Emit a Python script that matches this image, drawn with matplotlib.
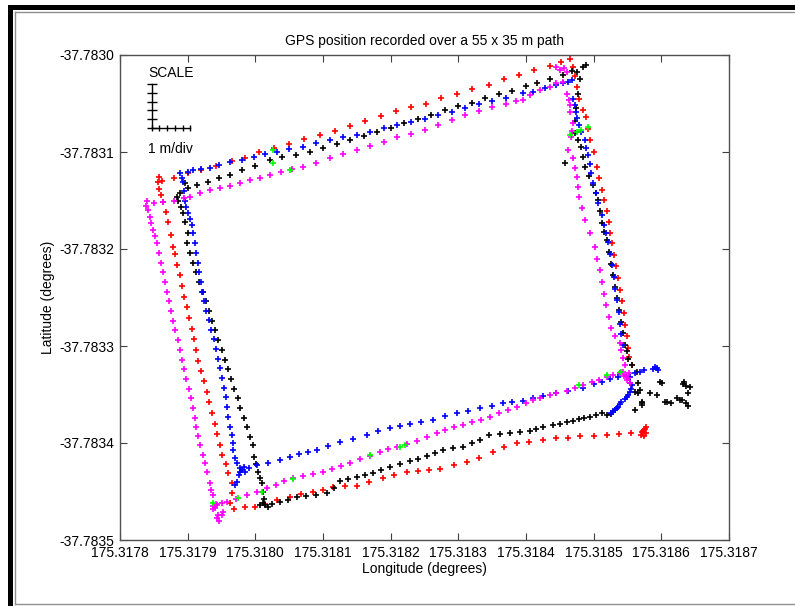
import numpy as np
import matplotlib.pyplot as plt
from matplotlib.ticker import FormatStrFormatter
from matplotlib.patches import Rectangle
from matplotlib.lines import Line2D

# GPS fixes, as (east of LON0, south of LAT0) in 1e-6 degrees
LON0, LAT0 = 175.3178, -37.7830

red = [(62,130),(80,127),(100,122),(120,119),(142,114),(165,109),(185,106),(205,100),(228,96),(250,92),
       (272,87),(295,82),(318,78),(340,73),(362,68),(385,63),(408,58),(430,54),(452,50),(475,44),(498,40),
       (520,35),(545,31),(568,25),(590,21),(612,15),(635,11),(652,7),(665,4),
       (669,12),(672,22),(675,33),(679,45),(684,57),(688,64),(691,76),(695,88),(700,100),(705,115),(708,127),
       (712,139),(716,149),(719,161),(722,172),(724,183),(727,194),(730,206),(733,218),(736,230),(739,242),
       (742,254),(745,266),(747,278),(749,290),(750,302),(752,311),(756,320),
       (770,392),(773,388),(776,386),(778,390),(775,393),(772,389),(777,384),
       (755,390),(737,391),(719,392),(700,393),(680,393),(662,395),(645,395),(625,397),(605,399),(586,400),
       (568,404),(551,409),(530,415),(513,420),(493,423),(473,427),(457,428),(440,429),(424,430),(405,433),
       (388,436),(368,440),(350,444),(332,444),(315,445),(300,448),(285,450),(268,453),(251,456),(232,459),
       (215,463),(200,466),(185,466),(168,468),
       (163,462),(166,452),(165,441),(160,431),(156,422),(151,412),(148,402),(144,391),(140,380),(136,369),
       (132,358),(128,347),(124,336),(120,326),(116,315),(112,304),(109,293),(106,282),(102,271),(99,260),
       (95,249),(92,238),(88,227),(84,216),(81,205),(78,198),(75,186),(71,172),(68,162),(64,152),(60,144),
       (57,138),(56,131),(58,126)]

black = [(84,146),(89,142),(96,132),(100,137),(114,134),(130,131),(146,127),(162,124),(180,119),(200,114),
         (222,108),(240,105),(260,103),(281,100),(300,96),(320,92),(340,88),(360,83),(380,79),(400,75),
         (420,70),(440,66),(460,62),(480,57),(500,53),(520,49),(540,44),(560,40),(580,37),(600,32),(616,29),
         (635,25),(654,21),(668,17),(676,18),(684,12),(688,10),
         (680,25),(677,40),(674,55),(672,68),(672,80),(677,88),(682,95),(684,105),(687,115),(693,125),
         (699,134),(703,142),(706,149),(709,161),(712,173),(716,182),(719,191),(722,203),(725,215),(728,227),
         (731,239),(734,251),(737,263),(740,275),(743,287),(747,299),(749,305),(751,313),(757,320),(764,327),
         (765,338),
         (761,347),(768,345),(783,348),(793,350),(798,337),(805,358),(815,359),(823,354),(830,356),(832,339),
         (836,341),(842,342),(839,348),(837,359),(839,362),(771,358),(772,361),(761,366),(765,348),(772,359),
         (801,338),(808,358),(827,356),(834,337),
         (725,370),(719,371),(713,369),(704,371),(694,373),(686,374),(679,375),(670,377),(660,378),(650,380),
         (640,381),(625,383),(615,386),(606,388),(591,389),(576,390),(561,391),(546,392),(532,397),(520,400),
         (507,404),(492,405),(477,407),(465,410),(453,413),(440,416),(428,419),(414,422),(399,425),(386,428),
         (374,431),(362,433),(350,435),(337,437),(325,439),(316,446),(306,452),(290,454),(275,455),(261,456),
         (248,459),(236,461),(225,463),(214,464),(207,464),(211,462),(218,466),
         (86,150),(90,157),(93,163),(96,172),(100,184),(99,194),(104,204),(108,214),(113,224),(117,234),
         (122,244),(127,254),(131,264),(136,274),(141,284),(145,294),(150,304),(155,314),(160,324),(164,334),
         (169,344),(174,354),(178,364),(183,374),(188,384),(192,394),(196,402),(198,414),(201,422),(204,430),
         (207,436),(210,441),(211,450),(213,458),
         (657,111)]

blue = [(100,121),(108,119),(120,118),(133,117),(147,113),(162,110),(180,108),(198,105),(215,102),(232,100),
        (250,97),(270,95),(290,91),(310,88),(330,85),(350,82),(370,79),(390,75),(410,72),(430,69),(450,66),
        (470,62),(490,59),(510,55),(530,51),(550,47),(570,44),(595,39),(610,38),(628,34),(645,31),(655,29),
        (662,28),(668,26),
        (670,45),(672,52),(674,59),(676,65),(679,72),(682,79),(687,88),(689,96),(691,103),(694,112),(696,122),
        (699,132),(703,142),(707,153),(712,165),(715,175),(718,184),(721,193),(724,205),(727,217),(730,229),
        (732,241),(735,253),(737,265),(739,277),(741,288),(743,299),
        (793,323),(790,322),(795,325),(788,324),(775,325),(768,327),(761,328),(753,332),(753,338),(757,340),
        (755,344),(753,347),(751,350),(749,353),(746,355),(741,358),(739,360),(736,363),(734,364),(731,366),
        (729,367),(728,368),(726,369),
        (177,430),(190,426),(202,423),(218,421),(236,418),(251,414),(265,411),(278,409),(291,407),(308,403),
        (325,399),(345,396),(365,392),(382,388),(399,385),(414,382),(428,380),(445,378),(462,376),(480,372),
        (498,369),(515,367),(532,364),(550,362),(566,359),(580,358),(595,357),(610,354),(625,352),(645,348),
        (662,346),(684,343),(700,339),(713,337),(724,334),(736,332),
        (180,428),(183,425),(176,433),(185,430),(178,426),(173,440),(170,443),
        (89,122),(91,127),(93,131),(95,140),(96,150),(98,157),(100,163),(103,169),(106,175),(108,184),
        (111,194),(113,204),(115,214),(117,224),(119,234),(121,244),(124,254),(127,264),(131,273),(135,283),
        (139,293),(142,303),(145,313),(148,323),(151,333),(153,343),(156,353),(158,363),(160,373),(163,383),
        (165,392),(167,400),(167,407),(170,415),(173,421)]

magenta = [(50,153),(64,152),(80,150),(95,147),(103,146),(118,142),(133,139),(148,137),(162,135),(177,132),
           (192,129),(207,127),(222,124),(238,121),(254,118),(270,115),(290,111),(310,106),(330,102),(350,98),
           (370,94),(390,90),(410,85),(430,81),(450,77),(470,72),(490,67),(510,62),(530,58),(550,54),(570,50),
           (585,47),(595,46),(606,41),(620,36),(635,33),(645,29),(654,28),
           (645,12),(650,15),(656,13),(660,18),
           (660,40),(663,46),(665,52),(665,59),(669,70),(668,78),(667,85),(662,98),(669,106),(672,116),
           (675,126),(677,136),(679,146),(683,158),(687,170),(694,184),(702,198),(705,210),(709,222),(712,234),
           (715,246),(718,258),(722,270),(726,281),(731,290),(739,297),(741,304),(743,312),(746,320),
           (743,327),(748,330),(751,333),(753,338),(749,335),(745,331),(752,328),
           (143,464),(150,462),(158,461),(172,458),(188,454),(202,450),(217,446),(230,443),(243,439),(256,436),
           (270,434),(285,432),(300,430),(313,427),(327,424),(340,421),(355,417),(369,413),(384,409),(396,406),
           (409,404),(424,401),(439,398),(453,394),(468,390),(481,387),(494,384),(507,381),(520,378),(534,376),
           (547,373),(560,369),(573,366),(586,363),(600,359),(610,356),(620,354),(635,351),(645,348),(660,346),
           (672,343),(684,340),(697,337),(708,335),(719,332),(729,330),(739,328),
           (138,465),(140,467),(142,463),(137,468),(143,477),(146,480),(150,474),(152,471),(145,474),
           (40,150),(38,156),(41,160),(44,167),(46,173),(49,180),(52,187),(55,194),(58,204),(61,214),(64,224),
           (67,234),(70,244),(73,254),(76,264),(79,274),(82,284),(85,294),(89,304),(92,314),(95,324),(98,334),
           (102,344),(105,354),(108,364),(111,374),(113,384),(116,393),(118,402),(123,412),(126,421),(129,430),
           (133,441),(135,448),(137,454)]

green = [(226,98),(226,111),(251,119),(691,74),(675,79),(682,77),(665,82),(679,340),(719,330),(741,327),
         (137,462),(174,457),(210,451),(414,404),(421,402),(369,412),(256,437)]

x_ticks = [175.3178, 175.3179, 175.3180, 175.3181, 175.3182, 175.3183, 175.3184, 175.3185, 175.3186, 175.3187]
y_ticks = [-37.7835, -37.7834, -37.7833, -37.7832, -37.7831, -37.7830]


def to_deg(pts):
    p = np.array(pts, dtype=float)
    return LON0 + p[:, 0] * 1e-6, LAT0 - p[:, 1] * 1e-6


plt.rcParams['font.family'] = ['Liberation Sans', 'DejaVu Sans']
fig = plt.figure(figsize=(7.95, 6.06), dpi=100)
ax = fig.add_axes([120 / 795, 1 - 540 / 606, 609 / 795, 485 / 606])

for pts, col in [(red, '#ff0000'), (black, '#000000'), (blue, '#0000ff'),
                 (magenta, '#ff00ff'), (green, '#00ff00')]:
    lon, lat = to_deg(pts)
    ax.plot(lon, lat, ls='none', marker='+', color=col, ms=4.5, mew=1.2)

ax.set_xlim(x_ticks[0], x_ticks[-1])
ax.set_ylim(y_ticks[0], y_ticks[-1])
ax.set_xticks(x_ticks)
ax.set_yticks(y_ticks)
ax.xaxis.set_major_formatter(FormatStrFormatter('%.4f'))
ax.yaxis.set_major_formatter(FormatStrFormatter('%.4f'))
ax.tick_params(direction='in', top=True, right=True, length=5, width=0.8,
               labelsize=10, pad=4, color='#404040')
for s in ax.spines.values():
    s.set_color('#505050')
    s.set_linewidth(1.0)

ax.set_title('GPS position recorded over a 55 x 35 m path', fontsize=10, pad=7)
ax.set_xlabel('Longitude (degrees)', fontsize=10, labelpad=2)
ax.set_ylabel('Latitude (degrees)', fontsize=10, labelpad=3)

# 1 m/div scale bar
m_lat = 1 / 111320
m_lon = 1 / (111320 * np.cos(np.radians(37.783)))
sx, sy = 175.317847, -37.783075
ax.plot([sx, sx], [sy, sy + 5 * m_lat], color='k', lw=1)
ax.plot([sx, sx + 5 * m_lon], [sy, sy], color='k', lw=1)
for i in range(6):
    ax.plot(sx, sy + i * m_lat, marker='_', ms=7, mew=1, color='k')
    ax.plot(sx + i * m_lon, sy, marker='|', ms=5, mew=1, color='k')
ax.text(0.046, 0.963, 'SCALE', transform=ax.transAxes, fontsize=10, va='center', ha='left')
ax.text(0.046, 0.806, '1 m/div', transform=ax.transAxes, fontsize=10, va='center', ha='left')

# window frame around the figure
fig.add_artist(Rectangle((8 / 795, 0), 5 / 795, 1 - 5 / 606, transform=fig.transFigure,
                         color='black', lw=0))
fig.add_artist(Rectangle((8 / 795, 1 - 10 / 606), 1, 5 / 606, transform=fig.transFigure,
                         color='black', lw=0))
fig.add_artist(Line2D([15 / 795, 15 / 795], [2 / 606, 1 - 12 / 606], color='#909090', lw=1))
fig.add_artist(Line2D([15 / 795, 1], [1 - 12 / 606, 1 - 12 / 606], color='#909090', lw=1))
fig.add_artist(Line2D([15 / 795, 1], [2 / 606, 2 / 606], color='#909090', lw=1))

fig.savefig('out.png', dpi=100)
